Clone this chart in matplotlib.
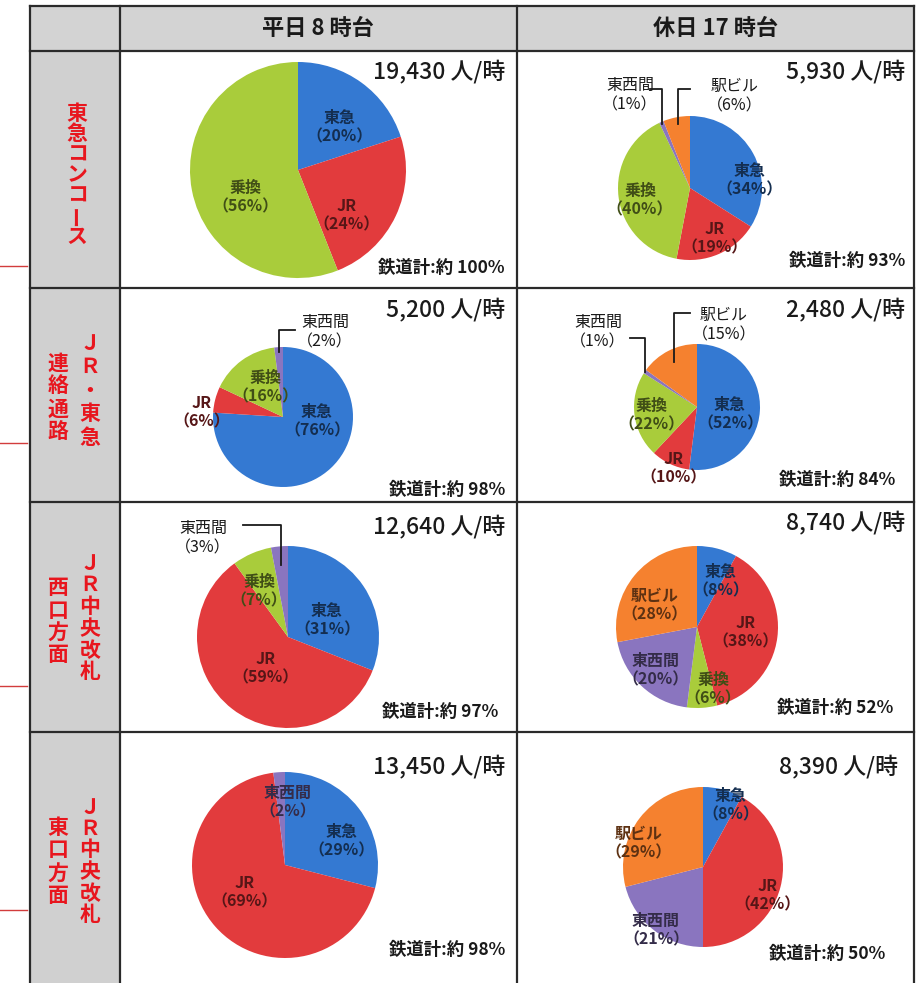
import matplotlib.pyplot as plt
import numpy as np

plt.rcParams['font.family'] = ['Noto Sans CJK JP', 'DejaVu Sans']

W, H = 918, 983

col_titles = ["平日 8 時台", "休日 17 時台"]
row_titles = [["東急コンコース"], ["ＪＲ・東急", "連絡通路"],
              ["ＪＲ中央改札", "西口方面"], ["ＪＲ中央改札", "東口方面"]]

# share of each direction (%), weekday 8h / holiday 17h
names_r1 = [["東急", "JR", "乗換"], ["東急", "JR", "乗換", "東西間", "駅ビル"]]
shares_r1 = [[20, 24, 56], [34, 19, 40, 1, 6]]
names_r2 = [["東急", "JR", "乗換", "東西間"], ["東急", "JR", "乗換", "東西間", "駅ビル"]]
shares_r2 = [[76, 6, 16, 2], [52, 10, 22, 1, 15]]
names_r3 = [["東急", "JR", "乗換", "東西間"], ["東急", "JR", "乗換", "東西間", "駅ビル"]]
shares_r3 = [[31, 59, 7, 3], [8, 38, 6, 20, 28]]
names_r4 = [["東急", "JR", "東西間"], ["東急", "JR", "東西間", "駅ビル"]]
shares_r4 = [[29, 69, 2], [8, 42, 21, 29]]

totals = [[19430, 5930], [5200, 2480], [12640, 8740], [13450, 8390]]
rail_total = [[100, 93], [98, 84], [97, 52], [98, 50]]

names = [names_r1, names_r2, names_r3, names_r4]
shares = [shares_r1, shares_r2, shares_r3, shares_r4]

colors = {"東急": "#3479d2", "JR": "#e23b3d", "乗換": "#a9cc3b",
          "東西間": "#8a75bf", "駅ビル": "#f5812f"}

# ---- layout (pixels) ----
xs = [30, 120, 517, 914]
ys = [6, 51, 288, 502, 732, 983]
pies = [[(298, 170, 108), (690, 188, 72)],
        [(283, 417, 70), (697, 407, 63)],
        [(288, 637, 91), (697, 627, 81)],
        [(285, 865, 93), (703, 867, 80)]]
lab_pos = [
    [{"東急": (42, -43), "JR": (49, 45), "乗換": (-53, 27)},
     {"東急": (60, -8), "JR": (25, 50), "乗換": (-50, 12), "東西間": (-60, -93), "駅ビル": (45, -92)}],
    [{"東急": (34, 4), "JR": (-81, -5), "乗換": (-18, -30), "東西間": (42, -85)},
     {"東急": (33, 7), "JR": (-23, 61), "乗換": (-46, 8), "東西間": (-99, -75), "駅ビル": (27, -82)}],
    [{"東急": (39, -17), "JR": (-22, 31), "乗換": (-29, -46), "東西間": (-85, -99)},
     {"東急": (24, -46), "JR": (49, 5), "乗換": (16, 62), "東西間": (-41, 43), "駅ビル": (-42, -22)}],
    [{"東急": (57, -24), "JR": (-40, 27), "東西間": (3, -63)},
     {"東急": (28, -62), "JR": (65, 28), "東西間": (-47, 63), "駅ビル": (-64, -24)}],
]
outside = {(0, 1, "東西間"), (0, 1, "駅ビル"), (1, 0, "東西間"), (1, 1, "東西間"),
           (1, 1, "駅ビル"), (2, 0, "東西間")}
# leader lines: name -> (radius frac, horizontal y offset, x end offset)
leaders = {(0, 1): {"東西間": (0.97, -99, -40), "駅ビル": (0.9, -99, 0)},
           (1, 0): {"東西間": (0.93, -87, 12)},
           (1, 1): {"東西間": (1.0, -69, -67), "駅ビル": (0.8, -94, -7)},
           (2, 0): {"東西間": (0.8, -112, -45)}}
total_pos = [[(505, 72), (905, 72)], [(505, 310), (905, 310)],
             [(505, 527), (905, 523)], [(505, 767), (898, 767)]]
rail_pos = [[(505, 268), (905, 261)], [(505, 490), (895, 480)],
            [(498, 712), (893, 708)], [(505, 950), (885, 954)]]
# vertical row labels: (x, y start, step) per column of characters
vlab = [[(77, 113, 20.5)],
        [(90, 343, 23.5), (58, 363, 23)],
        [(90, 563, 21.8), (58, 588, 22.3)],
        [(90, 807, 21.5), (58, 827, 23)]]
red_marks = [266, 443, 686, 910]

fig = plt.figure(figsize=(W / 100, H / 100), dpi=100)
ax = fig.add_axes([0, 0, 1, 1])
ax.set_xlim(0, W)
ax.set_ylim(H, 0)
ax.set_autoscale_on(False)
ax.axis('off')

# gray header backgrounds
ax.fill_between([xs[0], xs[3]], ys[0], ys[1], color='#d3d3d3', lw=0)
ax.fill_between([xs[0], xs[1]], ys[1], ys[5], color='#d0d0d0', lw=0)

# grid
for x in xs:
    ax.plot([x, x], [ys[0], ys[5]], color='#2a2a2a', lw=1.6)
for y in ys[:-1]:
    ax.plot([xs[0], xs[3]], [y, y], color='#2a2a2a', lw=1.6)
for y in red_marks:
    ax.plot([0, 27], [y, y], color='#d23c3c', lw=1)

for j, t in enumerate(col_titles):
    ax.text((xs[j + 1] + xs[j + 2]) / 2, 28, t, ha='center', va='center',
            fontsize=16, fontweight='bold', color='#1a1a1a')

for i, cols in enumerate(row_titles):
    for s, (x, y0, step) in zip(cols, vlab[i]):
        for k, ch in enumerate(s):
            ax.text(x, y0 + k * step, ch, ha='center', va='center', fontsize=15,
                    fontweight='bold', color='#e8161e',
                    rotation=90 if ch == 'ー' else 0)


def darker(c, f=0.38):
    rgb = np.array(plt.matplotlib.colors.to_rgb(c))
    return tuple(rgb * f)


for i in range(4):
    for j in range(2):
        cx, cy, r = pies[i][j]
        nm = names[i][j]
        vals = shares[i][j]
        # y axis is inverted: counterclock in data = clockwise on screen
        wedges, _ = ax.pie(vals, colors=[colors[n] for n in nm], center=(cx, cy),
                           radius=r, startangle=-90, counterclock=True, frame=True,
                           wedgeprops={'linewidth': 0})
        for n, v, w in zip(nm, vals, wedges):
            dx, dy = lab_pos[i][j][n]
            out = (i, j, n) in outside
            ax.text(cx + dx, cy + dy, f"{n}\n（{v}%）", ha='center', va='center',
                    fontsize=11.5, linespacing=1.15,
                    fontweight='normal' if out else 'bold',
                    color='#1a1a1a' if out else darker(colors[n]))
            if (i, j) in leaders and n in leaders[(i, j)]:
                fr, ly, lx = leaders[(i, j)][n]
                th = np.deg2rad((w.theta1 + w.theta2) / 2)
                px, py = cx + fr * r * np.cos(th), cy + fr * r * np.sin(th)
                ax.plot([cx + lx, px, px], [cy + ly, cy + ly, py],
                        color='#1a1a1a', lw=1.3)
        tx, ty = total_pos[i][j]
        ax.text(tx, ty, f"{totals[i][j]:,} 人/時", ha='right', va='center',
                fontsize=16.5, fontweight='medium', color='#1a1a1a')
        rx, ry = rail_pos[i][j]
        ax.text(rx, ry, f"鉄道計:約 {rail_total[i][j]}%", ha='right', va='center',
                fontsize=12.5, fontweight='bold', color='#1a1a1a')

ax.set_xlim(0, W)
ax.set_ylim(H, 0)
fig.savefig('out.png', dpi=100)
